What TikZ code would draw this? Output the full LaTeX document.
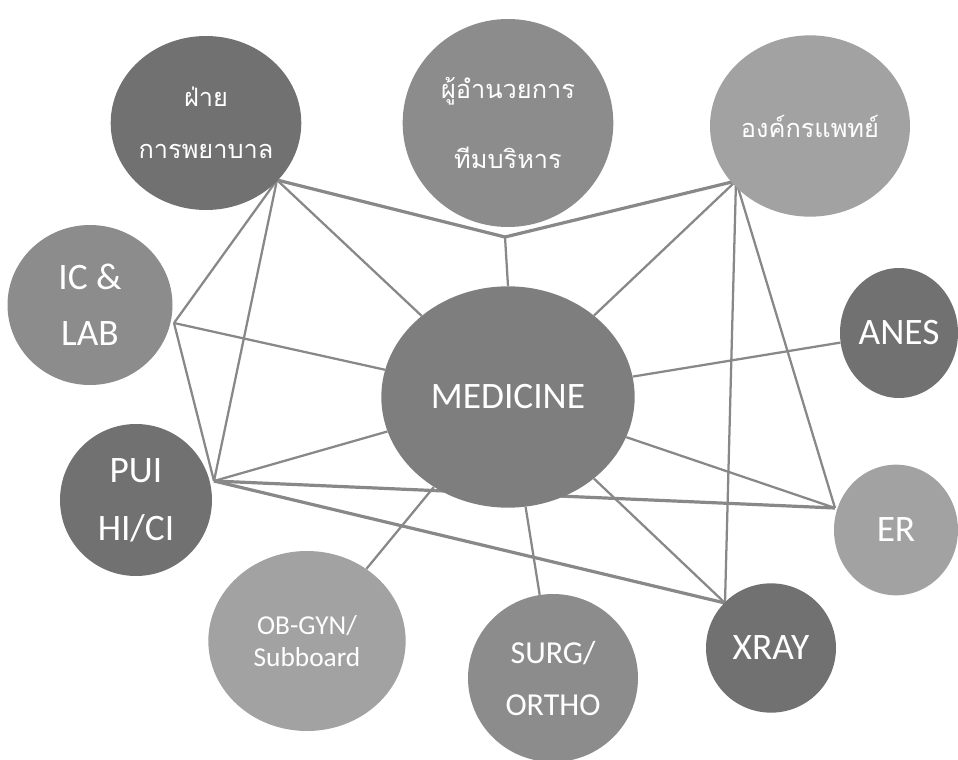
\documentclass[tikz,border=0pt]{standalone}
\usepackage{fontspec}
\setmainfont{Carlito}
\newfontfamily\thaifont[Script=Thai]{Loma}
\usepackage{tikz}
\usetikzlibrary{shapes.geometric}
\pgfdeclarelayer{bg}
\pgfsetlayers{bg,main}

\definecolor{darkfill}{HTML}{717171}
\definecolor{medfill}{HTML}{7E7E7E}
\definecolor{midfill}{HTML}{8C8C8C}
\definecolor{lightfill}{HTML}{A2A2A2}
\definecolor{linkgray}{HTML}{888888}

\tikzset{
  bubble/.style={ellipse, inner sep=0pt, text=white, align=center},
  link/.style={draw=linkgray, line width=1.7pt},
  heavylink/.style={draw=linkgray, line width=2.4pt}
}

\begin{document}
\begin{tikzpicture}[x=0.75pt,y=0.75pt,yscale=-1,xscale=1]
\useasboundingbox (0,0) rectangle (958,760);

%Shape: Circles
\node [bubble, fill=darkfill, minimum width=133.5pt, minimum height=130.5pt, font=\thaifont\fontsize{19}{39}\selectfont] (nurse) at (206,123) {ฝ่าย\\การพยาบาล};
\node [bubble, fill=midfill, minimum width=123.75pt, minimum height=120pt, font=\fontsize{28}{42}\selectfont] (ic) at (90,305) {IC \&\\LAB};
\node [bubble, fill=midfill, minimum width=158pt, minimum height=156pt, font=\thaifont\fontsize{19}{52.5}\selectfont] (dir) at (508,123) {ผู้อำนวยการ\\ทีมบริหาร};
\node [bubble, fill=lightfill, minimum width=150pt, minimum height=136pt, font=\thaifont\fontsize{19}{22}\selectfont] (org) at (810,126) {องค์กรแพทย์};
\node [bubble, fill=darkfill, minimum width=88.5pt, minimum height=97.5pt, font=\fontsize{28}{34}\selectfont] (anes) at (899,333) {ANES};
\node [bubble, fill=medfill, minimum width=190pt, minimum height=166pt, font=\fontsize{28}{34}\selectfont] (med) at (508,397) {MEDICINE};
\node [bubble, fill=lightfill, minimum width=93pt, minimum height=98pt, font=\fontsize{28}{34}\selectfont] (er) at (896,530) {ER};
\node [bubble, fill=darkfill, minimum width=114pt, minimum height=114pt, font=\fontsize{28}{43.5}\selectfont] (pui) at (136,500) {PUI\\HI/CI};
\node [bubble, fill=lightfill, minimum width=148pt, minimum height=135pt, font=\fontsize{20.5}{24}\selectfont] (ob) at (307,641) {OB-GYN/\\Subboard};
\node [bubble, fill=midfill, minimum width=127.5pt, minimum height=126pt, font=\fontsize{24}{39}\selectfont] (surg) at (553,678) {SURG/\\ORTHO};
\node [bubble, fill=darkfill, minimum width=97.5pt, minimum height=97pt, font=\fontsize{28}{34}\selectfont] (xray) at (771,648) {XRAY};

%Hub points
\coordinate (nurseHub) at (277,180);
\coordinate (dirHub) at (505,237);
\coordinate (orgHub) at (736,181);
\coordinate (icHub) at (174,323);
\coordinate (puiHub) at (214,481);
\coordinate (erHub) at (835,508);
\coordinate (xrayHub) at (725,603);

%Straight Lines
\begin{pgfonlayer}{bg}
\draw [heavylink] (nurseHub) -- (dirHub) -- (orgHub);
\draw [heavylink] (puiHub) -- (erHub);
\draw [heavylink] (puiHub) -- (xrayHub);
\draw [link] (dirHub) -- (med.north);
\draw [link] (nurseHub) -- (icHub);
\draw [link] (nurseHub) -- (puiHub);
\draw [link] (nurseHub) -- (med);
\draw [link] (icHub) -- (puiHub);
\draw [link] (icHub) -- (med);
\draw [link] (puiHub) -- (med);
\draw [link] (orgHub) -- (med);
\draw [link] (orgHub) -- (xrayHub);
\draw [link] (orgHub) -- (erHub);
\draw [link] (med) -- (anes);
\draw [link] (med) -- (erHub);
\draw [link] (med) -- (xrayHub);
\draw [link] (med) -- (surg);
\draw [link] (med) -- (ob);
\end{pgfonlayer}

\end{tikzpicture}
\end{document}
